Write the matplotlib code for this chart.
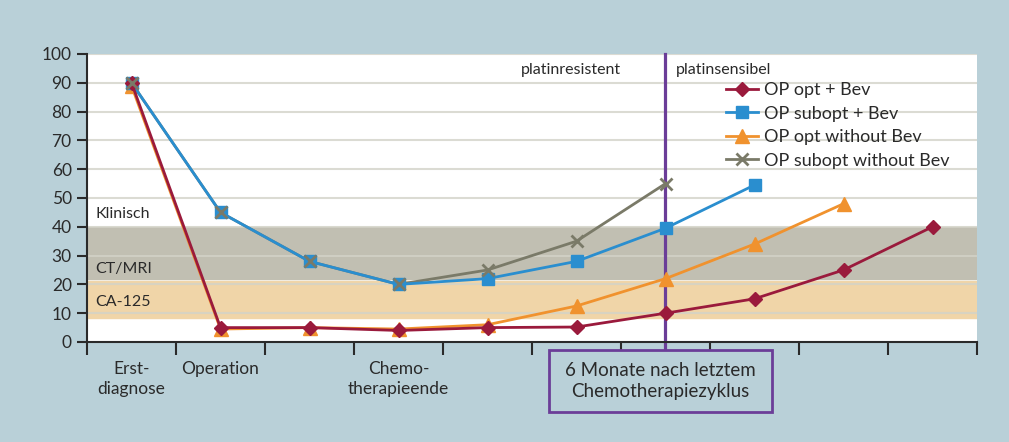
import numpy as np
import matplotlib
matplotlib.use("Agg")
import matplotlib.pyplot as plt
from matplotlib.patches import Rectangle

plt.rcParams['font.family'] = ['Lato', 'DejaVu Sans']

# categories along the time axis (only some are labelled)
categories = ["Erst-\ndiagnose", "Operation", "", "Chemo-\ntherapieende", "", "", "", "", "", ""]

# tumour marker curves (nan = no point)
op_opt_bev = [90, 5, 5, 4, 5, 5.2, 10, 15, 25, 40]
op_subopt_bev = [90, 45, 28, 20, 22, 28, 39.5, 54.5, np.nan, np.nan]
op_opt_without = [89, 4.5, 5, 4.5, 6, 12.5, 22, 34, 48, np.nan]
op_subopt_without = [90, 45, 28, 20, 25, 35, 55, np.nan, np.nan, np.nan]

# label, values, colour, marker, size, line zorder, marker zorder
series = [
    ("OP opt + Bev", op_opt_bev, "#9a1a3c", "D", 7, 3.4, 3.5),
    ("OP subopt + Bev", op_subopt_bev, "#2a8ecf", "s", 8.5, 3.2, 3.3),
    ("OP opt without Bev", op_opt_without, "#f0922e", "^", 10, 3.0, 3.05),
    ("OP subopt without Bev", op_subopt_without, "#7a7a68", "x", 9, 3.1, 3.6),
]

bands = [("Klinisch", 40, 100), ("CT/MRI", 22, 40), ("CA-125", 8.3, 21.2)]
cutoff_index = 6  # 6 Monate nach letztem Chemotherapiezyklus

bg = "#b9d0d8"
dark = "#2a2a2a"
purple = "#6b3d98"
fig = plt.figure(figsize=(10.09, 4.42), dpi=100, facecolor=bg)
ax = fig.add_axes([87 / 1009, 1 - 342 / 442, 890 / 1009, 288 / 442])
ax.set_facecolor("white")

x = np.arange(len(categories))

# shaded detection bands
ax.axhspan(bands[1][1], bands[1][2], color="#c1bfb2", zorder=0)
ax.axhspan(bands[2][1], bands[2][2], color="#f0d5a8", zorder=0)

for yv in range(10, 101, 10):
    ax.axhline(yv, color="#d3d3c8", lw=1.5, zorder=0.5, alpha=0.8)

ytr = ax.get_yaxis_transform()
ax.text(0.009, 44.5, "Klinisch", fontsize=11.5, color=dark, transform=ytr, va="center")
ax.text(0.009, 25.5, "CT/MRI", fontsize=11.5, color=dark, transform=ytr, va="center")
ax.text(0.009, 14, "CA-125", fontsize=11.5, color=dark, transform=ytr, va="center")

# cut-off line platinresistent / platinsensibel
ax.plot([cutoff_index - 0.01] * 2, [-2.8, 100], color=purple, lw=2.3, zorder=1.5, clip_on=False)
ax.text(cutoff_index - 0.5, 94.5, "platinresistent", fontsize=11.5, color=dark, ha="right", va="center")
ax.text(cutoff_index + 0.12, 94.5, "platinsensibel", fontsize=11.5, color=dark, ha="left", va="center")

for label, vals, col, mk, ms, zl, zm in series:
    mew = 2 if mk == "x" else 1
    ax.plot(x, vals, color=col, lw=2, zorder=zl)
    ax.plot(x, vals, linestyle="none", marker=mk, markersize=ms, mew=mew,
            color=col, markeredgecolor=col, zorder=zm)
    # proxy for legend
    ax.plot([], [], color=col, lw=2, marker=mk, markersize=ms, mew=mew, markeredgecolor=col, label=label)

# box below the cut-off line
box = Rectangle((549 / 1009, 1 - 412 / 442), 223 / 1009, 62 / 442, transform=fig.transFigure,
                facecolor=bg, edgecolor=purple, lw=2)
fig.patches.append(box)
fig.text(660.5 / 1009, 1 - 381 / 442, "6 Monate nach letztem\nChemotherapiezyklus", fontsize=13.5,
         color=dark, ha="center", va="center", linespacing=1.25)

ax.set_xlim(-0.5, len(categories) - 0.5)
ax.set_ylim(0, 100)
ax.set_yticks(range(0, 101, 10))
ax.set_xticks(np.arange(-0.5, len(categories), 1))
ax.set_xticklabels([])
ax.set_xticks(x, minor=True)
ax.set_xticklabels(categories, minor=True, fontsize=12.5, color=dark, linespacing=1.3)
ax.tick_params(axis="x", which="minor", length=0, pad=14)
ax.tick_params(axis="x", which="major", length=9, width=1.5, color=dark, direction="out")
ax.tick_params(axis="y", length=7, width=1.5, color=dark, labelsize=12.5, labelcolor=dark, pad=4)

for s in ["top", "right"]:
    ax.spines[s].set_visible(False)
for s in ["left", "bottom"]:
    ax.spines[s].set_linewidth(1.5)
    ax.spines[s].set_color(dark)

leg = ax.legend(loc="upper left", bbox_to_anchor=(726 / 1009, 1 - 82 / 442), bbox_transform=fig.transFigure,
                frameon=False, fontsize=13, handlelength=1.75, handletextpad=0.35, labelspacing=0.42,
                borderpad=0, borderaxespad=0)
for t in leg.get_texts():
    t.set_color(dark)

fig.savefig("out.png", dpi=100, facecolor=bg)
